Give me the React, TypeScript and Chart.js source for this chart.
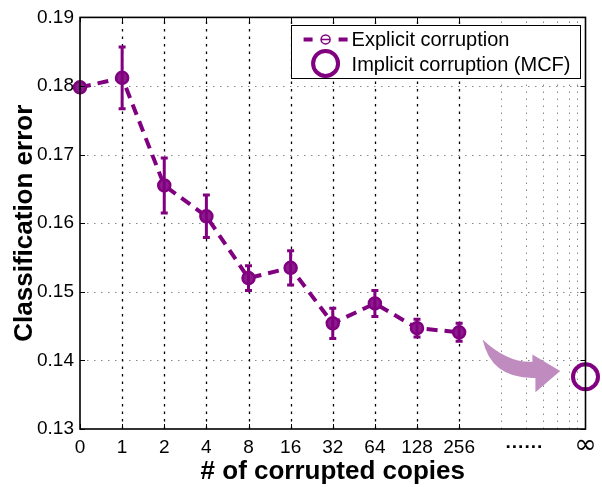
import { useEffect, useRef } from 'react';
import { Chart, registerables } from 'chart.js';

Chart.register(...registerables);

const PURPLE = '#800080';
const ARROW_COLOR = '#c08cc0';
const FONT = '"Liberation Sans", Arial, Helvetica, sans-serif';

// x categories (number of corrupted copies), placed at evenly spaced positions
const categories = ['0', '1', '2', '4', '8', '16', '32', '64', '128', '256'];
const categoryPos = [0, 1, 2, 3, 4, 5, 6, 7, 8, 9];
const gapLabel = '······';
const gapPos = 10.55;
const infLabel = '∞';
const infPos = 12;

// Explicit corruption: mean classification error and error-bar half-length
const explicitErr = [0.1798, 0.1812, 0.1655, 0.161, 0.152, 0.1535, 0.1454, 0.1483, 0.1447, 0.1441];
const explicitStd = [0, 0.0045, 0.004, 0.0031, 0.0018, 0.0025, 0.0022, 0.0019, 0.0013, 0.0013];

// Implicit corruption (MCF) at infinity
const implicitErr = [0.1376];

const yTickValues = [0.13, 0.14, 0.15, 0.16, 0.17, 0.18, 0.19];
const minorGridX = [10, 10.58, 10.98, 11.33, 11.61, 11.8];

// Curved arrow annotation (data space): tail, topCtrl, topEnd, headTop, tip, headBottom, bottomStart, bottomCtrl
const arrowX = [9.558, 10.149, 10.74, 10.74, 11.4, 10.811, 10.811, 9.76];
const arrowY = [0.14304, 0.13961, 0.1398, 0.14085, 0.13845, 0.13535, 0.13745, 0.13725];

const legendLabels = ['Explicit corruption', 'Implicit corruption (MCF)'];

const xTickPositions = [...categoryPos, gapPos, infPos];
const xTickLabels = [...categories, gapLabel, infLabel];

const decorPlugin = {
  id: 'decor',
  beforeDatasetsDraw(chart: any) {
    const { ctx, chartArea: a, scales } = chart;
    const x = scales.x;
    const y = scales.y;
    ctx.save();
    const hline = (py: number) => {
      ctx.beginPath();
      ctx.moveTo(a.left, py);
      ctx.lineTo(a.right, py);
      ctx.stroke();
    };
    const vline = (px: number) => {
      ctx.beginPath();
      ctx.moveTo(px, a.bottom);
      ctx.lineTo(px, a.top);
      ctx.stroke();
    };
    // horizontal grid
    ctx.strokeStyle = '#8a8a8a';
    ctx.lineWidth = 1;
    ctx.setLineDash([1.5, 5.5]);
    yTickValues.slice(1, -1).forEach((v) => hline(Math.round(y.getPixelForValue(v)) + 0.5));
    // minor vertical grid
    minorGridX.forEach((v) => vline(Math.round(x.getPixelForValue(v)) + 0.5));
    // major vertical grid
    ctx.strokeStyle = '#000';
    ctx.lineWidth = 1.3;
    ctx.setLineDash([2.5, 5]);
    categoryPos.slice(1).forEach((v) => vline(Math.round(x.getPixelForValue(v)) + 0.5));
    ctx.setLineDash([]);

    // curved arrow
    const P = (i: number) => [x.getPixelForValue(arrowX[i]), y.getPixelForValue(arrowY[i])];
    ctx.fillStyle = ARROW_COLOR;
    ctx.beginPath();
    const t = P(0);
    ctx.moveTo(t[0], t[1]);
    const c1 = P(1), e1 = P(2);
    ctx.quadraticCurveTo(c1[0], c1[1], e1[0], e1[1]);
    [3, 4, 5, 6].forEach((i) => {
      const p = P(i);
      ctx.lineTo(p[0], p[1]);
    });
    const c2 = P(7);
    ctx.quadraticCurveTo(c2[0], c2[1], t[0], t[1]);
    ctx.closePath();
    ctx.fill();
    ctx.restore();
  },
  afterDatasetsDraw(chart: any) {
    const { ctx, chartArea: a, scales } = chart;
    const x = scales.x;
    const y = scales.y;
    ctx.save();
    // error bars
    ctx.strokeStyle = PURPLE;
    ctx.lineWidth = 3;
    explicitErr.forEach((v, i) => {
      const s = explicitStd[i];
      if (!s) return;
      const px = x.getPixelForValue(categoryPos[i]);
      const top = y.getPixelForValue(v + s);
      const bot = y.getPixelForValue(v - s);
      ctx.beginPath();
      ctx.moveTo(px, top);
      ctx.lineTo(px, bot);
      ctx.moveTo(px - 3.5, top);
      ctx.lineTo(px + 3.5, top);
      ctx.moveTo(px - 3.5, bot);
      ctx.lineTo(px + 3.5, bot);
      ctx.stroke();
    });

    // inward tick marks
    ctx.strokeStyle = '#000';
    ctx.lineWidth = 1;
    ctx.beginPath();
    yTickValues.forEach((v) => {
      const py = Math.round(y.getPixelForValue(v)) + 0.5;
      ctx.moveTo(a.left, py);
      ctx.lineTo(a.left + 5, py);
      ctx.moveTo(a.right, py);
      ctx.lineTo(a.right - 5, py);
    });
    categoryPos.forEach((v) => {
      const px = Math.round(x.getPixelForValue(v)) + 0.5;
      ctx.moveTo(px, a.bottom);
      ctx.lineTo(px, a.bottom - 5);
      ctx.moveTo(px, a.top);
      ctx.lineTo(px, a.top + 5);
    });
    ctx.stroke();

    // axes box
    ctx.lineWidth = 1.6;
    ctx.strokeStyle = '#000';
    ctx.strokeRect(a.left, a.top, a.right - a.left, a.bottom - a.top);

    // infinity tick label (drawn larger, centred on the tick row)
    ctx.fillStyle = '#000';
    ctx.font = `27px "DejaVu Sans", ${FONT}`;
    ctx.textAlign = 'center';
    ctx.textBaseline = 'middle';
    ctx.fillText(infLabel, x.getPixelForValue(infPos), a.bottom + 17);

    // legend
    ctx.font = `20px ${FONT}`;
    const textOffset = 61;
    const maxW = Math.max(...legendLabels.map((l) => ctx.measureText(l).width));
    const boxRight = a.right - 6;
    const boxW = textOffset + maxW + 9;
    const boxLeft = boxRight - boxW;
    const boxTop = a.top + 8;
    const boxH = 53;
    ctx.fillStyle = '#fff';
    ctx.fillRect(boxLeft, boxTop, boxW, boxH);
    ctx.lineWidth = 1;
    ctx.strokeStyle = '#000';
    ctx.strokeRect(Math.round(boxLeft) + 0.5, Math.round(boxTop) + 0.5, Math.round(boxW), boxH);

    const y1 = boxTop + 14;
    const mx = boxLeft + 35;
    ctx.strokeStyle = PURPLE;
    ctx.lineWidth = 4;
    ctx.beginPath();
    ctx.moveTo(boxLeft + 13, y1);
    ctx.lineTo(boxLeft + 22, y1);
    ctx.moveTo(boxLeft + 48, y1);
    ctx.lineTo(boxLeft + 57, y1);
    ctx.stroke();
    ctx.lineWidth = 1.5;
    ctx.beginPath();
    ctx.arc(mx, y1, 4.5, 0, Math.PI * 2);
    ctx.moveTo(mx - 4.5, y1);
    ctx.lineTo(mx + 4.5, y1);
    ctx.stroke();

    const y2 = boxTop + 38;
    ctx.lineWidth = 4;
    ctx.beginPath();
    ctx.arc(mx, y2, 12.5, 0, Math.PI * 2);
    ctx.stroke();

    ctx.fillStyle = '#000';
    ctx.textBaseline = 'alphabetic';
    ctx.textAlign = 'left';
    ctx.fillText(legendLabels[0], boxLeft + textOffset, boxTop + 21);
    ctx.fillText(legendLabels[1], boxLeft + textOffset, boxTop + 45.5);
    ctx.restore();
  },
};

export default function App() {
  const ref = useRef<HTMLCanvasElement | null>(null);
  useEffect(() => {
    if (!ref.current) return;
    const chart = new Chart(ref.current, {
      type: 'line',
      data: {
        datasets: [
          {
            label: legendLabels[0],
            data: explicitErr.map((v, i) => ({ x: categoryPos[i], y: v })),
            borderColor: PURPLE,
            borderWidth: 4,
            borderDash: [11, 7],
            pointRadius: 6,
            pointBorderWidth: 2.5,
            pointBorderColor: PURPLE,
            pointBackgroundColor: '#8c1a8c',
            tension: 0,
            clip: false as any,
          },
          {
            label: legendLabels[1],
            data: implicitErr.map((v) => ({ x: infPos, y: v })),
            showLine: false,
            pointRadius: 12.5,
            pointBorderWidth: 4,
            pointBorderColor: PURPLE,
            pointBackgroundColor: 'rgba(0,0,0,0)',
            clip: false as any,
          },
        ],
      },
      options: {
        responsive: false,
        animation: false,
        layout: { padding: { left: 0, right: 14, top: 15, bottom: 0 } },
        plugins: { legend: { display: false }, tooltip: { enabled: false } },
        scales: {
          x: {
            type: 'linear',
            min: 0,
            max: infPos,
            afterBuildTicks: (axis: any) => {
              axis.ticks = xTickPositions.map((v) => ({ value: v }));
            },
            afterFit: (s: any) => {
              s.height = 58;
            },
            ticks: {
              autoSkip: false,
              maxRotation: 0,
              minRotation: 0,
              color: '#000',
              padding: 7,
              callback: (v: any) => {
                const i = xTickPositions.indexOf(Number(v));
                if (i < 0 || Number(v) === infPos) return '';
                return xTickLabels[i];
              },
              font: (c: any) =>
                c.tick && c.tick.value === gapPos
                  ? { family: FONT, size: 19, weight: 'bold' }
                  : { family: FONT, size: 19 },
            },
            grid: { display: false, drawTicks: false },
            border: { display: false },
            title: {
              display: true,
              text: '# of corrupted copies',
              color: '#000',
              font: { family: FONT, size: 26, weight: 'bold' },
              padding: { top: 0, bottom: 0 },
            },
          },
          y: {
            type: 'linear',
            min: 0.13,
            max: 0.19,
            afterBuildTicks: (axis: any) => {
              axis.ticks = yTickValues.map((v) => ({ value: v }));
            },
            afterFit: (s: any) => {
              s.width = 80;
            },
            ticks: {
              color: '#000',
              padding: 6,
              font: { family: FONT, size: 19 },
              callback: (v: any) => Number(v).toFixed(2),
            },
            grid: { display: false, drawTicks: false },
            border: { display: false },
            title: {
              display: true,
              text: 'Classification error',
              color: '#000',
              font: { family: FONT, size: 26, weight: 'bold' },
              padding: { top: 9, bottom: 0 },
            },
          },
        },
      },
      plugins: [decorPlugin],
    } as any);
    return () => chart.destroy();
  }, []);
  return (
    <div style={{ position: 'fixed', left: 0, top: 0, width: 602, height: 487, background: '#fff' }}>
      <canvas ref={ref} width={602} height={487} style={{ display: 'block' }} />
    </div>
  );
}
